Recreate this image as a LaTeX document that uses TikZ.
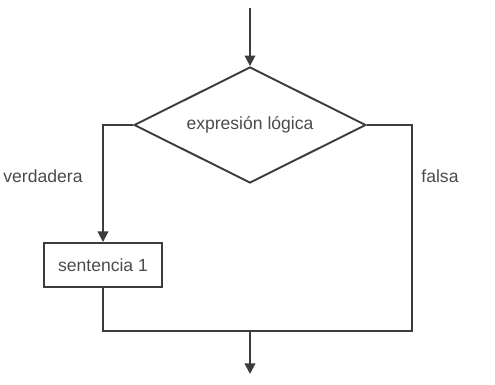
\documentclass[tikz,border=0pt]{standalone}
\usepackage{fontspec}
\setmainfont{Liberation Sans}
\usetikzlibrary{shapes.geometric}
\usetikzlibrary{arrows.meta}
\definecolor{linegray}{RGB}{60, 60, 60}
\definecolor{textgray}{RGB}{75, 75, 75}

\begin{document}
\begin{tikzpicture}[
            x=0.02cm, y=-0.02cm,
            line width=1.1pt,
            draw=linegray,
            font=\fontsize{10}{12}\selectfont,
            text=textgray,
            decision/.style={
                diamond,
                draw=linegray,
                line width=1.1pt,
                shape aspect=2,
                minimum width=4.64cm,
                minimum height=2.32cm,
                inner sep=0pt
            },
            statement/.style={
                rectangle,
                draw=linegray,
                line width=1.1pt,
                minimum width=2.36cm,
                minimum height=0.88cm
            },
            flow/.style={-{Triangle[width=6pt,length=6pt]}, draw=linegray}
        ]

            \useasboundingbox (0,0) rectangle (495,385);

            % Nodes
            \node[decision] (cond) at (250,125) {expresión lógica};
            \node[statement] (stmt) at (103,265) {sentencia 1};
            \node (truelbl) at (43,176) {verdadera};
            \node (falselbl) at (440,176) {falsa};

            \coordinate (entry) at (250,8);
            \coordinate (rcorner) at (412,331);
            \coordinate (join) at (250,331);
            \coordinate (exit) at (250,374);

            % Arrows
            \draw[flow] (entry) -- (cond.north);
            \draw[flow] (cond.west) -| (stmt.north);
            \draw (cond.east) -| (rcorner) -- (join);
            \draw (stmt.south) |- (join);
            \draw[flow] (join) -- (exit);
        \end{tikzpicture}
\end{document}
